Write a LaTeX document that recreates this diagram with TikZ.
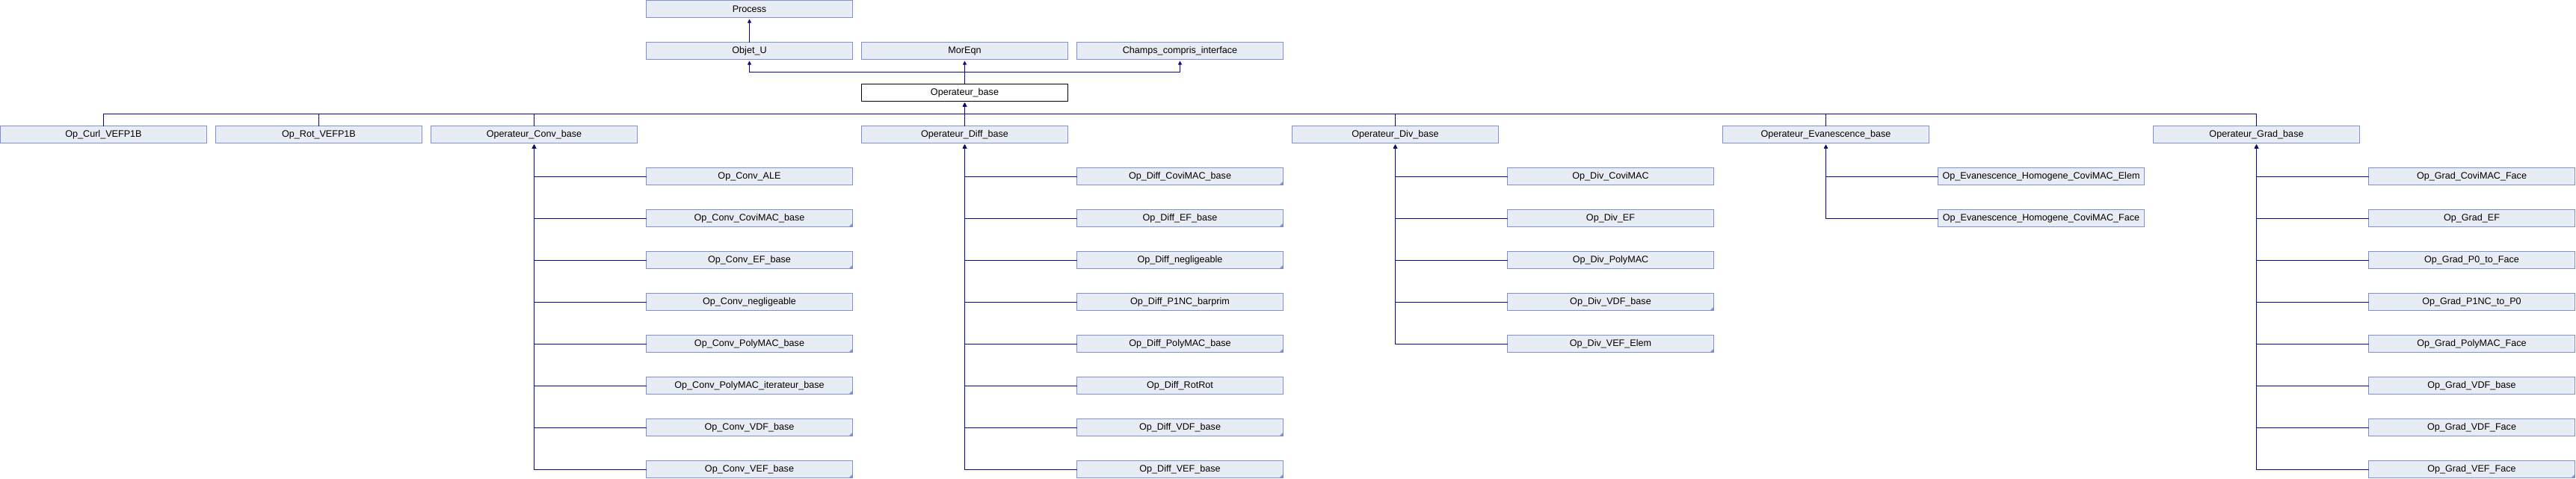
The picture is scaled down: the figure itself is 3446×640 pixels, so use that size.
\documentclass[tikz,border=0pt]{standalone}
\usepackage{fontspec}
\setmainfont{Liberation Sans}
\usepackage{tikz}
\usetikzlibrary{arrows.meta}
\definecolor{clsfill}{RGB}{232,236,245}
\definecolor{clsborder}{RGB}{126,146,206}
\definecolor{edgecol}{RGB}{10,10,140}
\begin{document}
\begin{tikzpicture}[x=1pt,y=1pt,
	cls/.style={draw=clsborder, fill=clsfill, line width=1pt, minimum width=276pt, minimum height=23pt,
		inner sep=0pt, outer sep=0pt, anchor=north west, font=\fontsize{12.6}{14}\selectfont},
	base/.style={cls, draw=black, fill=white},
	more/.style={path picture={\fill[clsborder] (path picture bounding box.south east) -- ++(-5pt,0pt) -- ++(5pt,5pt) -- cycle;}},
	edge/.style={draw=edgecol, line width=1pt},
	arr/.style={edge, -{Triangle[width=5pt,length=5pt]}, shorten >=2pt}]
		\useasboundingbox (0,0) rectangle (3446,-640);

		\node[cls] (process) at (864.5,-0.5) {Process};
		\node[cls] (objet) at (864.5,-56.5) {Objet\_U};
		\node[cls] (moreqn) at (1152.5,-56.5) {MorEqn};
		\node[cls] (champs) at (1440.5,-56.5) {Champs\_compris\_interface};
		\node[base] (base) at (1152.5,-112.5) {Operateur\_base};

		\node[cls] (curl) at (0.5,-168.5) {Op\_Curl\_VEFP1B};
		\node[cls] (rot) at (288.5,-168.5) {Op\_Rot\_VEFP1B};
		\node[cls] (conv) at (576.5,-168.5) {Operateur\_Conv\_base};
		\node[cls] (diff) at (1152.5,-168.5) {Operateur\_Diff\_base};
		\node[cls] (div) at (1728.5,-168.5) {Operateur\_Div\_base};
		\node[cls] (evan) at (2304.5,-168.5) {Operateur\_Evanescence\_base};
		\node[cls] (grad) at (2880.5,-168.5) {Operateur\_Grad\_base};

		\node[cls] (convale) at (864.5,-224.5) {Op\_Conv\_ALE};
		\node[cls,more] (convcovimac) at (864.5,-280.5) {Op\_Conv\_CoviMAC\_base};
		\node[cls,more] (convef) at (864.5,-336.5) {Op\_Conv\_EF\_base};
		\node[cls] (convnegl) at (864.5,-392.5) {Op\_Conv\_negligeable};
		\node[cls,more] (convpoly) at (864.5,-448.5) {Op\_Conv\_PolyMAC\_base};
		\node[cls,more] (convpolyit) at (864.5,-504.5) {Op\_Conv\_PolyMAC\_iterateur\_base};
		\node[cls,more] (convvdf) at (864.5,-560.5) {Op\_Conv\_VDF\_base};
		\node[cls,more] (convvef) at (864.5,-616.5) {Op\_Conv\_VEF\_base};

		\node[cls,more] (diffcovimac) at (1440.5,-224.5) {Op\_Diff\_CoviMAC\_base};
		\node[cls,more] (diffef) at (1440.5,-280.5) {Op\_Diff\_EF\_base};
		\node[cls,more] (diffnegl) at (1440.5,-336.5) {Op\_Diff\_negligeable};
		\node[cls] (diffp1nc) at (1440.5,-392.5) {Op\_Diff\_P1NC\_barprim};
		\node[cls,more] (diffpoly) at (1440.5,-448.5) {Op\_Diff\_PolyMAC\_base};
		\node[cls] (diffrotrot) at (1440.5,-504.5) {Op\_Diff\_RotRot};
		\node[cls,more] (diffvdf) at (1440.5,-560.5) {Op\_Diff\_VDF\_base};
		\node[cls,more] (diffvef) at (1440.5,-616.5) {Op\_Diff\_VEF\_base};

		\node[cls] (divcovimac) at (2016.5,-224.5) {Op\_Div\_CoviMAC};
		\node[cls] (divef) at (2016.5,-280.5) {Op\_Div\_EF};
		\node[cls] (divpoly) at (2016.5,-336.5) {Op\_Div\_PolyMAC};
		\node[cls,more] (divvdf) at (2016.5,-392.5) {Op\_Div\_VDF\_base};
		\node[cls,more] (divvef) at (2016.5,-448.5) {Op\_Div\_VEF\_Elem};

		\node[cls] (evanelem) at (2592.5,-224.5) {Op\_Evanescence\_Homogene\_CoviMAC\_Elem};
		\node[cls] (evanface) at (2592.5,-280.5) {Op\_Evanescence\_Homogene\_CoviMAC\_Face};

		\node[cls] (gradcovimac) at (3168.5,-224.5) {Op\_Grad\_CoviMAC\_Face};
		\node[cls] (gradef) at (3168.5,-280.5) {Op\_Grad\_EF};
		\node[cls] (gradp0) at (3168.5,-336.5) {Op\_Grad\_P0\_to\_Face};
		\node[cls] (gradp1nc) at (3168.5,-392.5) {Op\_Grad\_P1NC\_to\_P0};
		\node[cls] (gradpoly) at (3168.5,-448.5) {Op\_Grad\_PolyMAC\_Face};
		\node[cls] (gradvdfbase) at (3168.5,-504.5) {Op\_Grad\_VDF\_base};
		\node[cls] (gradvdfface) at (3168.5,-560.5) {Op\_Grad\_VDF\_Face};
		\node[cls,more] (gradvef) at (3168.5,-616.5) {Op\_Grad\_VEF\_Face};

		\coordinate (topbus) at (0,-96);
		\coordinate (bus) at (0,-152);

		\draw[arr] (objet.north) -- (process.south);
		\draw[arr] (base.north) |- (objet.south |- topbus) -- (objet.south);
		\draw[arr] (base.north) -- (moreqn.south);
		\draw[arr] (base.north) |- (champs.south |- topbus) -- (champs.south);

		\draw[arr] (curl.north) |- (base.south |- bus) -- (base.south);
		\draw[arr] (rot.north) |- (base.south |- bus) -- (base.south);
		\draw[arr] (conv.north) |- (base.south |- bus) -- (base.south);
		\draw[arr] (diff.north) -- (base.south);
		\draw[arr] (div.north) |- (base.south |- bus) -- (base.south);
		\draw[arr] (evan.north) |- (base.south |- bus) -- (base.south);
		\draw[arr] (grad.north) |- (base.south |- bus) -- (base.south);

		\draw[arr] (convale.west) -| (conv.south);
		\draw[arr] (convcovimac.west) -| (conv.south);
		\draw[arr] (convef.west) -| (conv.south);
		\draw[arr] (convnegl.west) -| (conv.south);
		\draw[arr] (convpoly.west) -| (conv.south);
		\draw[arr] (convpolyit.west) -| (conv.south);
		\draw[arr] (convvdf.west) -| (conv.south);
		\draw[arr] (convvef.west) -| (conv.south);

		\draw[arr] (diffcovimac.west) -| (diff.south);
		\draw[arr] (diffef.west) -| (diff.south);
		\draw[arr] (diffnegl.west) -| (diff.south);
		\draw[arr] (diffp1nc.west) -| (diff.south);
		\draw[arr] (diffpoly.west) -| (diff.south);
		\draw[arr] (diffrotrot.west) -| (diff.south);
		\draw[arr] (diffvdf.west) -| (diff.south);
		\draw[arr] (diffvef.west) -| (diff.south);

		\draw[arr] (divcovimac.west) -| (div.south);
		\draw[arr] (divef.west) -| (div.south);
		\draw[arr] (divpoly.west) -| (div.south);
		\draw[arr] (divvdf.west) -| (div.south);
		\draw[arr] (divvef.west) -| (div.south);

		\draw[arr] (evanelem.west) -| (evan.south);
		\draw[arr] (evanface.west) -| (evan.south);

		\draw[arr] (gradcovimac.west) -| (grad.south);
		\draw[arr] (gradef.west) -| (grad.south);
		\draw[arr] (gradp0.west) -| (grad.south);
		\draw[arr] (gradp1nc.west) -| (grad.south);
		\draw[arr] (gradpoly.west) -| (grad.south);
		\draw[arr] (gradvdfbase.west) -| (grad.south);
		\draw[arr] (gradvdfface.west) -| (grad.south);
		\draw[arr] (gradvef.west) -| (grad.south);

	\end{tikzpicture}
\end{document}
